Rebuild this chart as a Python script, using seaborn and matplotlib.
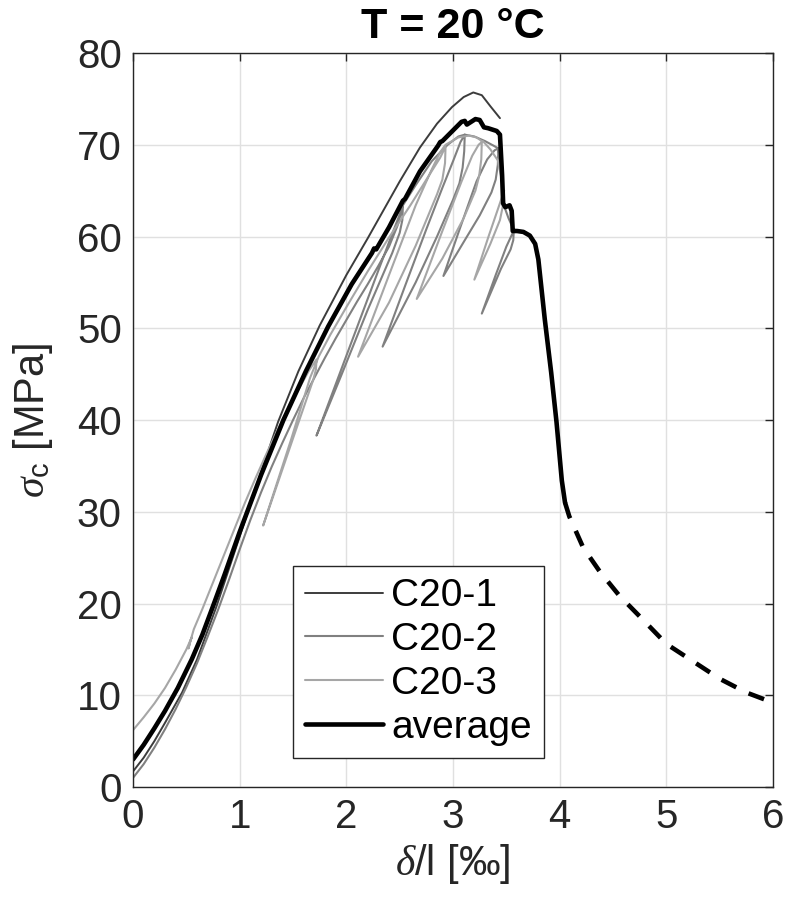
import numpy as np
import pandas as pd
import seaborn as sns
import matplotlib
matplotlib.use("Agg")
import matplotlib.pyplot as plt

# ---------------- data ----------------
x_ticks = [0, 1, 2, 3, 4, 5, 6]
y_ticks = [0, 10, 20, 30, 40, 50, 60, 70, 80]

c1_x = [0.00, 0.10, 0.20, 0.30, 0.46, 0.60, 0.78, 0.90, 1.00, 1.10, 1.20, 1.36, 1.55, 1.75,
        2.00, 2.20, 2.35, 2.50, 2.69, 2.85, 2.99, 3.10, 3.19, 3.27, 3.35, 3.44]
c1_y = [1.7, 3.2, 5.0, 7.0, 10.3, 13.9, 19.6, 23.8, 27.3, 30.8, 34.3, 39.8, 45.3, 50.3,
        55.8, 59.8, 62.9, 66.0, 69.7, 72.3, 74.1, 75.2, 75.7, 75.4, 74.2, 72.9]

c2_x = [0.00, 0.10, 0.20, 0.30, 0.40, 0.50, 0.60, 0.70, 0.80, 0.90, 1.00, 1.10, 1.20, 1.30,
        1.40, 1.50, 1.60, 1.70, 1.80, 1.90, 2.00, 2.10, 2.20, 2.30, 2.40, 2.48, 2.53,
        2.525, 2.50, 2.43, 2.20, 1.95, 1.72,
        2.00, 2.30, 2.44, 2.50, 2.53,
        2.65, 2.80, 2.95, 3.05, 3.11,
        3.105, 3.09, 3.06, 3.00, 2.85, 2.65, 2.34,
        2.55, 2.75, 2.90, 3.00, 3.07, 3.11,
        3.20, 3.30, 3.38, 3.425,
        3.42, 3.40, 3.36, 3.25, 3.10, 2.91,
        3.05, 3.22, 3.32, 3.39, 3.425,
        3.45, 3.47, 3.52, 3.57,
        3.565, 3.54, 3.45, 3.27,
        3.40, 3.50, 3.56, 3.575]
c2_y = [1.0, 2.5, 4.3, 6.3, 8.5, 10.9, 13.5, 16.4, 19.4, 22.6, 25.9, 29.1, 32.1, 34.9,
        37.5, 40.0, 42.4, 44.6, 46.8, 48.9, 50.9, 52.9, 54.8, 56.8, 58.9, 61.2, 63.3,
        61.8, 60.4, 58.2, 52.0, 44.8, 38.3,
        47.0, 56.3, 60.6, 62.4, 63.4,
        65.6, 68.2, 70.0, 70.9, 71.1,
        69.3, 67.5, 65.8, 64.0, 60.0, 55.0, 48.0,
        54.6, 60.8, 65.3, 68.2, 70.3, 71.1,
        70.9, 70.4, 69.9, 69.6,
        67.8, 66.2, 64.8, 62.3, 59.4, 55.7,
        60.4, 66.0, 68.4, 69.4, 69.6,
        67.5, 63.6, 62.0, 60.7,
        59.6, 58.6, 56.5, 51.6,
        55.8, 58.9, 60.4, 60.8]

c3_x = [0.00, 0.10, 0.20, 0.30, 0.40, 0.50, 0.55,
        0.535, 0.52, 0.545, 0.57,
        0.65, 0.75, 0.85, 0.95, 1.05, 1.15, 1.25, 1.35, 1.45, 1.55, 1.65, 1.72,
        1.715, 1.69, 1.50, 1.22,
        1.48, 1.66, 1.74,
        1.85, 2.00, 2.20, 2.40, 2.60, 2.75, 2.88, 2.93,
        2.925, 2.90, 2.85, 2.65, 2.40, 2.11,
        2.40, 2.65, 2.80, 2.88, 2.93,
        3.05, 3.15, 3.22, 3.27,
        3.265, 3.245, 3.21, 3.10, 2.90, 2.66,
        2.90, 3.08, 3.18, 3.24, 3.28,
        3.35, 3.42, 3.46, 3.47,
        3.465, 3.44, 3.35, 3.20,
        3.33, 3.43, 3.48]
c3_y = [6.2, 7.6, 9.1, 10.8, 12.8, 15.0, 16.3,
        15.8, 15.1, 16.2, 17.2,
        19.4, 22.3, 25.2, 28.1, 31.0, 33.7, 36.3, 38.8, 41.1, 43.3, 45.4, 46.6,
        45.5, 44.4, 38.0, 28.5,
        37.8, 44.6, 46.9,
        49.3, 52.3, 56.2, 59.9, 63.4, 66.2, 68.6, 69.8,
        68.0, 66.2, 64.6, 59.0, 52.8, 46.9,
        55.8, 63.4, 67.3, 69.2, 70.0,
        70.8, 71.0, 70.8, 70.4,
        68.4, 66.6, 65.0, 62.0, 57.6, 53.2,
        60.6, 66.0, 68.8, 70.0, 70.4,
        69.5, 68.3, 66.0, 64.8,
        63.2, 61.8, 59.2, 55.3,
        59.9, 63.3, 65.0]

avg_x = [0.00, 0.10, 0.20, 0.30, 0.42, 0.55, 0.65, 0.74, 0.86, 1.00, 1.20, 1.41, 1.62, 1.83,
         2.05, 2.24, 2.26, 2.28, 2.40, 2.53, 2.55, 2.69, 2.86, 2.88, 2.90, 3.02, 3.08, 3.11,
         3.13, 3.17, 3.21, 3.25, 3.27, 3.29, 3.33, 3.41, 3.44, 3.46, 3.47, 3.49, 3.53, 3.55,
         3.56, 3.60, 3.66, 3.72, 3.77, 3.80, 3.86, 3.92, 3.97, 4.02, 4.05]
avg_y = [3.0, 4.6, 6.4, 8.3, 10.8, 13.9, 16.6, 19.4, 23.2, 27.8, 34.0, 40.0, 45.3, 50.2,
         54.8, 58.2, 58.7, 58.6, 61.0, 63.9, 64.1, 67.1, 69.9, 70.3, 70.4, 71.8, 72.5, 72.6,
         72.2, 72.5, 72.8, 72.7, 72.3, 71.9, 71.8, 71.5, 71.1, 66.7, 63.6, 63.2, 63.4, 62.8,
         60.6, 60.6, 60.5, 60.1, 59.2, 57.5, 51.0, 45.2, 39.8, 33.4, 31.0]

tail_x = [4.05, 4.09, 4.22, 4.375, 4.56, 4.75, 5.00, 5.25, 5.50, 5.75, 6.00]
tail_y = [31.0, 29.5, 26.1, 23.5, 20.85, 18.6, 15.6, 13.7, 11.8, 10.3, 9.2]

labels = ["C20-1", "C20-2", "C20-3", "average"]

# ---------------- style ----------------
sns.set_style("white")
plt.rcParams["font.family"] = ["Liberation Sans", "DejaVu Sans"]
plt.rcParams["mathtext.fontset"] = "custom"
plt.rcParams["mathtext.rm"] = "Liberation Sans"
plt.rcParams["mathtext.it"] = "Liberation Serif:italic"
plt.rcParams["mathtext.bf"] = "Liberation Sans:bold"

FS_TICK = 29
FS_LAB = 30
FS_LEG = 28
AX_COL = "#262626"

fig, ax = plt.subplots(figsize=(7.88, 9.06), dpi=100)
fig.subplots_adjust(left=0.1688, right=0.981, bottom=0.1313, top=0.9415)

def draw(xs, ys, color, lw, label, **kw):
    df = pd.DataFrame({"x": xs, "y": ys})
    sns.lineplot(data=df, x="x", y="y", sort=False, estimator=None, color=color,
                 linewidth=lw, label=label, ax=ax, **kw)

draw(c1_x, c1_y, "#3c3c3c", 1.4, labels[0])
draw(c2_x, c2_y, "#808080", 1.5, labels[1])
draw(c3_x, c3_y, "#a6a6a6", 1.5, labels[2])
draw(avg_x, avg_y, "black", 3.3, labels[3])
draw(tail_x, tail_y, "black", 3.3, "_nolegend_", linestyle=(0, (3.6, 3.0)))

ax.set_xlim(0, 6)
ax.set_ylim(0, 80)
ax.set_xticks(x_ticks)
ax.set_yticks(y_ticks)
ax.set_xticklabels([str(v) for v in x_ticks])
ax.set_yticklabels([str(v) for v in y_ticks])

ax.grid(True, color="#e0e0e0", linewidth=1.0)
ax.set_axisbelow(True)

for s in ax.spines.values():
    s.set_visible(True)
    s.set_color(AX_COL)
    s.set_linewidth(1.0)

ax.tick_params(direction="in", length=6, width=1.0, color=AX_COL, top=True, right=True,
               labelsize=FS_TICK, pad=8, labelcolor=AX_COL)

ax.set_xlabel(r"$\delta$/l [‰]", fontsize=FS_LAB, color=AX_COL, labelpad=4)
ax.set_ylabel(r"$\sigma_{\mathrm{c}}$ [MPa]", fontsize=FS_LAB, color=AX_COL, labelpad=16)
ax.set_title("T = 20 °C", fontsize=31, fontweight="bold", color="black", pad=11)

handles, labs = ax.get_legend_handles_labels()
leg = ax.legend(handles[:4], labs[:4], loc="lower left", bbox_to_anchor=(0.25, 0.0395),
                borderaxespad=0, fontsize=FS_LEG, frameon=True, fancybox=False,
                edgecolor=AX_COL, framealpha=1, handlelength=2.0, handletextpad=0.2,
                labelspacing=0.2, borderpad=0.32)
leg.get_frame().set_linewidth(1.0)
for t in leg.get_texts():
    t.set_color("black")

fig.savefig("out.png", dpi=100)
